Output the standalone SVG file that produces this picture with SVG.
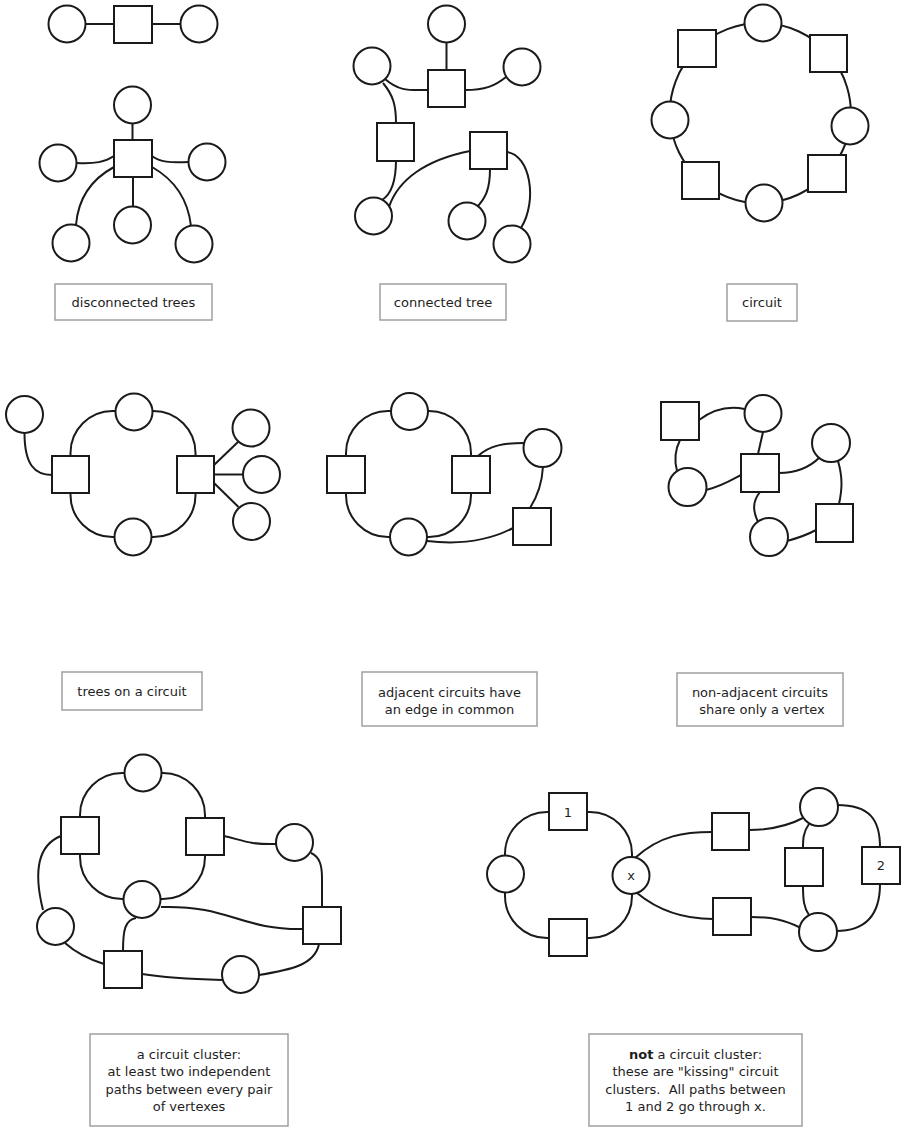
<svg xmlns="http://www.w3.org/2000/svg" width="906" height="1128" viewBox="0 0 906 1128">
<style>
.n{fill:#fff;stroke:#1a1a1a;stroke-width:2}
.e{fill:none;stroke:#1a1a1a;stroke-width:2}
.lb{fill:#fff;stroke:#a0a0a0;stroke-width:1.5}
.t{font-family:"DejaVu Sans",sans-serif;font-size:13px;fill:#1e1e1e;text-anchor:middle;white-space:pre}
.nt{font-family:"DejaVu Sans",sans-serif;font-size:13px;fill:#1e1e1e;text-anchor:middle}
</style>
<rect width="906" height="1128" fill="#fff"/>

<g id="connectors">
<!-- panel 1 -->
<path class="e" d="M85.5,24 H114 M152,24 H180.5"/>
<path class="e" d="M132.5,123.5 V140"/>
<path class="e" d="M76.5,163 C95,164 105,162 114,156"/>
<path class="e" d="M152,156 C160,162 170,163 188.5,162"/>
<path class="e" d="M114,167 C90,180 78,200 76,225"/>
<path class="e" d="M152,167 C175,180 188,200 191,226"/>
<path class="e" d="M133,177 V206.5"/>
<!-- panel 2 -->
<path class="e" d="M446.5,42.5 V70"/>
<path class="e" d="M385,79 C400,92 410,90 428,90"/>
<path class="e" d="M465,90 C485,90 495,86 506,77"/>
<path class="e" d="M383,83 C393,95 396,105 396,123"/>
<path class="e" d="M396,160 C396,185 390,195 382,200"/>
<path class="e" d="M470,151 C425,160 398,180 389,207"/>
<path class="e" d="M490,169 C490,190 485,198 478,206"/>
<path class="e" d="M507,152 C530,155 538,200 521,228"/>
<!-- panel 3 ring -->
<path class="e" d="M763,23 A91,91 0 0 1 828.5,53.5 A91,91 0 0 1 850,126 A91,91 0 0 1 827,173.5 A91,91 0 0 1 764,203 A91,91 0 0 1 700.5,180.5 A91,91 0 0 1 670,120 A91,91 0 0 1 697,48.5 A91,91 0 0 1 763,23"/>
<!-- panel 4 -->
<path class="e" d="M134,411 H112.5 A42,42 0 0 0 70.5,453 V474"/>
<path class="e" d="M70.5,474 V495 A42,42 0 0 0 112.5,537 H133"/>
<path class="e" d="M133,537 H153.5 A42,42 0 0 0 195.5,495 V474"/>
<path class="e" d="M195.5,474 V453 A42,42 0 0 0 153.5,411 H134"/>
<path class="e" d="M24.5,433 C24.5,465 35,475 52,475"/>
<path class="e" d="M214,465 L238,442"/>
<path class="e" d="M214,474.5 H243"/>
<path class="e" d="M214,483 L238.5,507"/>
<!-- panel 5 -->
<path class="e" d="M409.5,411 H388 A42,42 0 0 0 346,453 V474"/>
<path class="e" d="M346,474 V495 A42,42 0 0 0 388,537 H408.5"/>
<path class="e" d="M408.5,537 H429 A42,42 0 0 0 471,495 V474"/>
<path class="e" d="M471,474 V453 A42,42 0 0 0 429,411 H409.5"/>
<path class="e" d="M478,456 C490,445 505,443 524,443"/>
<path class="e" d="M543,466.5 C542,485 537,497 530,508"/>
<path class="e" d="M513,528 C490,540 460,545 427,541"/>
<!-- panel 6 -->
<path class="e" d="M699,420 C715,408 730,406 744.5,409"/>
<path class="e" d="M680,440 C675,450 674,460 677,471"/>
<path class="e" d="M706,490 C720,487 730,481 741,475"/>
<path class="e" d="M763,432 L758,454"/>
<path class="e" d="M779,473 C795,473 810,467 820,457"/>
<path class="e" d="M838,461 C843,478 842,490 839,504"/>
<path class="e" d="M816,530 C805,536 798,538 787,541"/>
<path class="e" d="M760,492 C752,502 753,511 758,522"/>
<!-- panel 7 -->
<path class="e" d="M143,773 H122 A42,42 0 0 0 80,815 V836"/>
<path class="e" d="M80,836 V857 A42,42 0 0 0 122,899 H142"/>
<path class="e" d="M142,899 H163 A42,42 0 0 0 205,857 V836"/>
<path class="e" d="M205,836 V815 A42,42 0 0 0 163,773 H143"/>
<path class="e" d="M224,836 C242,840 250,845 276,844"/>
<path class="e" d="M311,853 C320,857 322,866 322,878 V907"/>
<path class="e" d="M319,944 C315,965 290,970 259,975"/>
<path class="e" d="M222,980 C185,979 160,977 142,974"/>
<path class="e" d="M104,964 C85,958 75,952 65,943"/>
<path class="e" d="M43,910 C33,870 38,845 61,836"/>
<path class="e" d="M161,907 C230,905 240,930 303,929"/>
<path class="e" d="M136,918 C125,920 123,930 123,951"/>
<!-- panel 8 -->
<path class="e" d="M568,812 H547 A42,42 0 0 0 505,854 V875"/>
<path class="e" d="M505,875 V896 A42,42 0 0 0 547,938 H568"/>
<path class="e" d="M568,938 H590 A42,42 0 0 0 632,896 V875"/>
<path class="e" d="M632,875 V854 A42,42 0 0 0 590,812 H568"/>
<path class="e" d="M635,858 C660,835 685,832 712,832"/>
<path class="e" d="M749,830 C770,830 790,825 805,817"/>
<path class="e" d="M637,893 C660,912 685,919 713,919"/>
<path class="e" d="M751,917 C772,917 785,920 801,928"/>
<path class="e" d="M837,805 C870,805 880,820 880,847"/>
<path class="e" d="M880,884 C880,915 865,931 836,931"/>
<path class="e" d="M809,824 C803,832 803,840 803,848"/>
<path class="e" d="M803,886 C803,900 804,908 809,915"/>
</g>

<!-- panel 1 nodes -->
<g id="p1-c1"><circle class="n" cx="67" cy="24" r="18.5"/></g>
<g id="p1-s1"><rect class="n" x="114" y="6" width="38" height="37"/></g>
<g id="p1-c2"><circle class="n" cx="199" cy="24" r="18.5"/></g>
<g id="p1-c3"><circle class="n" cx="132.5" cy="105" r="18.5"/></g>
<g id="p1-s2"><rect class="n" x="114" y="140" width="38" height="37"/></g>
<g id="p1-c4"><circle class="n" cx="58" cy="163" r="18.5"/></g>
<g id="p1-c5"><circle class="n" cx="207" cy="162" r="18.5"/></g>
<g id="p1-c6"><circle class="n" cx="132.5" cy="225" r="18.5"/></g>
<g id="p1-c7"><circle class="n" cx="71" cy="243" r="18.5"/></g>
<g id="p1-c8"><circle class="n" cx="194" cy="244" r="18.5"/></g>

<!-- panel 2 nodes -->
<g id="p2-c1"><circle class="n" cx="446.5" cy="24" r="18.5"/></g>
<g id="p2-c2"><circle class="n" cx="372" cy="66" r="18.5"/></g>
<g id="p2-c3"><circle class="n" cx="522" cy="67" r="18.5"/></g>
<g id="p2-s1"><rect class="n" x="428" y="70" width="37" height="37"/></g>
<g id="p2-s2"><rect class="n" x="377" y="123" width="37" height="38"/></g>
<g id="p2-s3"><rect class="n" x="470" y="132" width="37" height="37"/></g>
<g id="p2-c4"><circle class="n" cx="373.5" cy="216" r="18.5"/></g>
<g id="p2-c5"><circle class="n" cx="467" cy="221" r="18.5"/></g>
<g id="p2-c6"><circle class="n" cx="512" cy="244" r="18.5"/></g>

<!-- panel 3 nodes -->
<g id="p3-c1"><circle class="n" cx="763" cy="23" r="18.5"/></g>
<g id="p3-s1"><rect class="n" x="678" y="30" width="38" height="37"/></g>
<g id="p3-s2"><rect class="n" x="810" y="35" width="37" height="37"/></g>
<g id="p3-c2"><circle class="n" cx="670" cy="120" r="18.5"/></g>
<g id="p3-c3"><circle class="n" cx="850" cy="126" r="18.5"/></g>
<g id="p3-s3"><rect class="n" x="682" y="162" width="37" height="37"/></g>
<g id="p3-s4"><rect class="n" x="808" y="155" width="38" height="37"/></g>
<g id="p3-c4"><circle class="n" cx="764" cy="203" r="18.5"/></g>

<!-- panel 4 nodes -->
<g id="p4-c1"><circle class="n" cx="24.5" cy="414.5" r="18.5"/></g>
<g id="p4-c2"><circle class="n" cx="134" cy="412" r="18.5"/></g>
<g id="p4-s1"><rect class="n" x="52" y="456" width="37" height="37"/></g>
<g id="p4-s2"><rect class="n" x="177" y="456" width="37" height="37"/></g>
<g id="p4-c3"><circle class="n" cx="133" cy="537" r="18.5"/></g>
<g id="p4-c4"><circle class="n" cx="251" cy="428" r="18.5"/></g>
<g id="p4-c5"><circle class="n" cx="261.5" cy="474.5" r="18.5"/></g>
<g id="p4-c6"><circle class="n" cx="251.5" cy="521.5" r="18.5"/></g>

<!-- panel 5 nodes -->
<g id="p5-c1"><circle class="n" cx="409.5" cy="411.5" r="18.5"/></g>
<g id="p5-s1"><rect class="n" x="327" y="456" width="38" height="37"/></g>
<g id="p5-s2"><rect class="n" x="452" y="456" width="38" height="37"/></g>
<g id="p5-c2"><circle class="n" cx="408.5" cy="537" r="18.5"/></g>
<g id="p5-c3"><circle class="n" cx="542.5" cy="448" r="19"/></g>
<g id="p5-s3"><rect class="n" x="513" y="508" width="38" height="37"/></g>

<!-- panel 6 nodes -->
<g id="p6-s1"><rect class="n" x="661" y="402" width="38" height="38"/></g>
<g id="p6-c1"><circle class="n" cx="763" cy="413.5" r="18.5"/></g>
<g id="p6-s2"><rect class="n" x="741" y="454" width="38" height="38"/></g>
<g id="p6-c2"><circle class="n" cx="687.5" cy="487" r="19"/></g>
<g id="p6-c3"><circle class="n" cx="831" cy="443" r="19"/></g>
<g id="p6-c4"><circle class="n" cx="769" cy="537" r="19"/></g>
<g id="p6-s3"><rect class="n" x="816" y="504" width="37" height="38"/></g>

<!-- panel 7 nodes -->
<g id="p7-c1"><circle class="n" cx="143" cy="773" r="18.5"/></g>
<g id="p7-s1"><rect class="n" x="61" y="817" width="38" height="37"/></g>
<g id="p7-s2"><rect class="n" x="186" y="818" width="38" height="37"/></g>
<g id="p7-c2"><circle class="n" cx="142" cy="899.5" r="18.5"/></g>
<g id="p7-c3"><circle class="n" cx="294.5" cy="842.5" r="18.5"/></g>
<g id="p7-c4"><circle class="n" cx="55.5" cy="926.5" r="18.5"/></g>
<g id="p7-s3"><rect class="n" x="303" y="907" width="38" height="37"/></g>
<g id="p7-s4"><rect class="n" x="104" y="951" width="38" height="37"/></g>
<g id="p7-c5"><circle class="n" cx="240.5" cy="974.5" r="18.5"/></g>

<!-- panel 8 nodes -->
<g id="p8-s1"><rect class="n" x="549" y="793" width="38" height="37"/><text class="nt" x="568" y="816.5">1</text></g>
<g id="p8-c1"><circle class="n" cx="505.5" cy="874" r="18.5"/></g>
<g id="p8-cx"><circle class="n" cx="631" cy="875.5" r="18.5"/><text class="nt" x="631" y="880">x</text></g>
<g id="p8-s2"><rect class="n" x="549" y="919" width="38" height="37"/></g>
<g id="p8-s3"><rect class="n" x="712" y="813" width="37" height="37"/></g>
<g id="p8-s4"><rect class="n" x="713" y="898" width="38" height="37"/></g>
<g id="p8-c2"><circle class="n" cx="819" cy="807" r="19"/></g>
<g id="p8-c3"><circle class="n" cx="818" cy="932" r="19"/></g>
<g id="p8-s5"><rect class="n" x="785" y="848" width="38" height="38"/></g>
<g id="p8-s6"><rect class="n" x="862" y="847" width="38" height="37"/><text class="nt" x="881" y="870">2</text></g>

<!-- labels -->
<g id="label1"><rect class="lb" x="55" y="284" width="157" height="36"/><text class="t" x="133.5" y="307">disconnected trees</text></g>
<g id="label2"><rect class="lb" x="380" y="284" width="126" height="36"/><text class="t" x="443" y="307">connected tree</text></g>
<g id="label3"><rect class="lb" x="727" y="284" width="70" height="37"/><text class="t" x="762" y="307">circuit</text></g>
<g id="label4"><rect class="lb" x="62" y="672" width="140" height="38"/><text class="t" x="132" y="696">trees on a circuit</text></g>
<g id="label5"><rect class="lb" x="362" y="672" width="175" height="54"/><text class="t" x="449.5" y="697">adjacent circuits have</text><text class="t" x="449.5" y="714">an edge in common</text></g>
<g id="label6"><rect class="lb" x="677" y="673" width="166" height="53"/><text class="t" x="760" y="697">non-adjacent circuits</text><text class="t" x="760" y="714"> share only a vertex</text></g>
<g id="label7"><rect class="lb" x="90" y="1034" width="198" height="92"/>
<text class="t" x="189" y="1058.5">a circuit cluster:</text>
<text class="t" x="189" y="1076">at least two independent</text>
<text class="t" x="189" y="1093.5">paths between every pair</text>
<text class="t" x="189" y="1111">of vertexes</text></g>
<g id="label8"><rect class="lb" x="589" y="1034" width="213" height="92"/>
<text class="t" x="695.5" y="1058.5"><tspan font-weight="bold">not</tspan> a circuit cluster:</text>
<text class="t" x="695.5" y="1076">these are "kissing" circuit</text>
<text class="t" x="695.5" y="1093.5">clusters.  All paths between</text>
<text class="t" x="695.5" y="1111">1 and 2 go through x.</text></g>
</svg>
